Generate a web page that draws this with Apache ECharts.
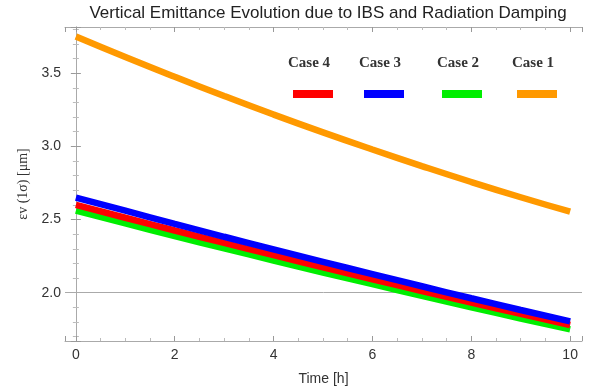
<!DOCTYPE html>
<html>
<head>
<meta charset="utf-8">
<script src="https://cdn.jsdelivr.net/npm/echarts@6/dist/echarts.min.js"></script>
<style>html,body{margin:0;padding:0;background:#fff}#c{width:591px;height:391px}</style>
</head>
<body>
<div id="c"></div>
<script>
var times = [0,1,2,3,4,5,6,7,8,9,10];
var case1 = [3.75,3.61,3.475,3.344,3.217,3.095,2.978,2.865,2.756,2.652,2.553];
var case2 = [2.56,2.473,2.387,2.303,2.220,2.138,2.058,1.978,1.900,1.824,1.749];
var case3 = [2.65,2.560,2.470,2.382,2.296,2.211,2.127,2.044,1.962,1.882,1.804];
var case4 = [2.60,2.512,2.425,2.340,2.256,2.173,2.092,2.011,1.932,1.855,1.779];
var legendNames = ['Case 4','Case 3','Case 2','Case 1'];
var legendColors = ['#ff0000','#0000ff','#00ee00','#ff9900'];

function pts(v){ return times.map(function(t,i){ return [t, v[i]]; }); }

var chart = echarts.init(document.getElementById('c'));
var frameLine = {show:true, lineStyle:{color:'#aaaaaa', width:1}};
var tickIn = {show:true, inside:true, length:5, lineStyle:{color:'#999'}};
var minorIn = {show:true, splitNumber:5, length:3, lineStyle:{color:'#bbb'}};
function fmtX(v){ return (Math.abs(v - Math.round(v)) < 1e-6 && Math.round(v) % 2 === 0) ? String(Math.round(v)) : ''; }
function fmtY(v){ return (Math.abs(v*2 - Math.round(v*2)) < 1e-6) ? v.toFixed(1) : ''; }

var graphics = [];
var cx = [313, 384, 462, 537];
legendNames.forEach(function(n, i){
  graphics.push({type:'text', left: cx[i]-25, top: 56, style:{text:n, fill:'#333', font:'bold 15px "Liberation Serif"', width:50, align:'center'}});
  graphics.push({type:'rect', shape:{x: cx[i]-20, y: 90, width: 40, height: 8}, style:{fill: legendColors[i]}});
});

function series(name, data, color){
  return {name:name, type:'line', data:pts(data), smooth:true, symbol:'none',
          lineStyle:{color:color, width:6.5}, itemStyle:{color:color}, z:3};
}

var s1 = series('Case 1', case1, '#ff9900');
s1.markLine = {silent:true, symbol:'none', label:{show:false}, lineStyle:{color:'#aaaaaa', width:1, type:'solid'}, data:[{yAxis:2.0}], z:1};

chart.setOption({
  animation:false,
  title:{text:'Vertical Emittance Evolution due to IBS and Radiation Damping', left:323, textAlign:'center', top:0,
         textStyle:{fontFamily:'Liberation Sans', fontSize:17, fontWeight:'normal', color:'#222'}},
  grid:{left:65, right:9, top:27, bottom:46},
  xAxis:[
    {type:'value', min:-0.22, max:10.24, splitNumber:5, position:'bottom',
     axisLine:frameLine, axisTick:tickIn, minorTick:{show:true, splitNumber:4, length:3, lineStyle:{color:'#bbb'}},
     splitLine:{show:false},
     axisLabel:{formatter:fmtX, showMinLabel:false, showMaxLabel:false, color:'#333', fontSize:14, fontFamily:'Liberation Sans', margin:7},
     name:'Time [h]', nameLocation:'middle', nameGap:31, nameTextStyle:{color:'#333', fontSize:14, fontFamily:'Liberation Sans'}},
    {type:'value', min:-0.22, max:10.24, splitNumber:5, position:'top',
     axisLine:frameLine, axisTick:tickIn, minorTick:{show:true, splitNumber:4, length:3, lineStyle:{color:'#bbb'}},
     splitLine:{show:false}, axisLabel:{show:false}}
  ],
  yAxis:[
    {type:'value', min:1.67, max:3.815, splitNumber:4, position:'left',
     axisLine:frameLine, axisTick:tickIn, minorTick:minorIn, splitLine:{show:false},
     axisLabel:{formatter:fmtY, showMinLabel:false, showMaxLabel:false, color:'#333', fontSize:14, fontFamily:'Liberation Sans', margin:4},
     name:'εv (1σ) [μm]', nameLocation:'middle', nameGap:32, nameRotate:90,
     nameTextStyle:{color:'#333', fontSize:14, fontFamily:'Liberation Serif'}},
    {type:'value', min:1.67, max:3.815, splitNumber:4, position:'right',
     axisLine:frameLine, axisTick:tickIn, minorTick:minorIn, splitLine:{show:false}, axisLabel:{show:false}}
  ],
  graphic: graphics,
  series:[
    s1,
    series('Case 2', case2, '#00ee00'),
    series('Case 4', case4, '#ff0000'),
    series('Case 3', case3, '#0000ff')
  ]
});
</script>
</body>
</html>
